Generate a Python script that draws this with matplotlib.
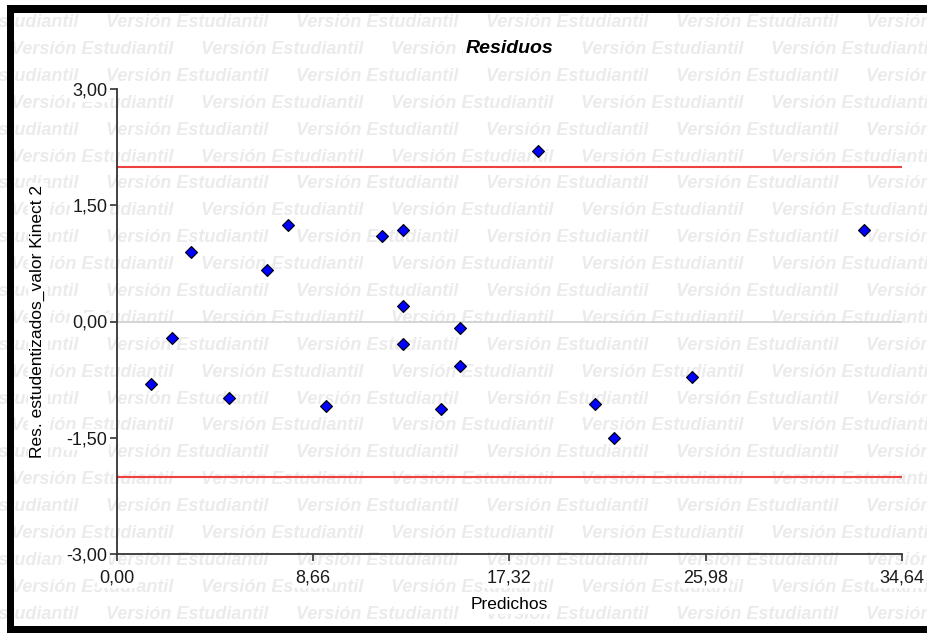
import matplotlib
matplotlib.use("Agg")
import matplotlib.pyplot as plt
from matplotlib.patches import Rectangle

plt.rcParams['font.family'] = ['Liberation Sans', 'DejaVu Sans']

# Studentized residuals vs. predicted values
predichos = [1.50, 2.41, 3.25, 4.96, 6.62, 7.53, 9.21, 11.71, 12.61, 12.61,
             12.61, 14.29, 15.13, 15.13, 18.58, 21.10, 21.94, 25.37, 32.99]
residuos = [-0.80, -0.21, 0.90, -0.99, 0.67, 1.245, -1.09, 1.10, 1.18, 0.20,
            -0.29, -1.13, -0.09, -0.58, 2.20, -1.065, -1.50, -0.72, 1.18]

x_ticks = [0.00, 8.66, 17.32, 25.98, 34.64]
x_labels = ["0,00", "8,66", "17,32", "25,98", "34,64"]
y_ticks = [-3.00, -1.50, 0.00, 1.50, 3.00]
y_labels = ["-3,00", "-1,50", "0,00", "1,50", "3,00"]
limites = [-2.0, 2.0]

W, H = 928, 633
fig = plt.figure(figsize=(W / 100, H / 100), dpi=100)
fig.patch.set_facecolor("white")

# Background watermark rows
marca = "Versión Estudiantil"
for k in range(24):
    yc = 22.7 + 26.88 * k
    x0 = -84 if k % 2 == 0 else 11
    for j in range(6):
        xs = x0 + 190 * j
        fig.text(xs / W, 1 - yc / H, marca, fontsize=13, fontweight="bold",
                 fontstyle="italic", color="#ebebeb", ha="left", va="center",
                 zorder=-5)

ax = fig.add_axes([117 / W, 1 - 554 / H, (901.7 - 117) / W, (554 - 89) / H])
ax.set_facecolor("none")

ax.set_xlim(0, 34.64)
ax.set_ylim(-3, 3)

ax.axhline(0, color="#cfcfcf", lw=1.2, zorder=1)
for v in limites:
    ax.axhline(v, color="#f04040", lw=1.5, zorder=2)

ax.plot(predichos, residuos, linestyle="none", marker="D", ms=6,
        markerfacecolor="#0000ff", markeredgecolor="black", mew=0.8, zorder=4)

for s in ["top", "right"]:
    ax.spines[s].set_visible(False)
for s in ["left", "bottom"]:
    ax.spines[s].set_color("#333333")
    ax.spines[s].set_linewidth(1.3)

ax.set_xticks(x_ticks, x_labels)
ax.set_yticks(y_ticks, y_labels)
ax.tick_params(axis="both", direction="out", length=5, width=1.2,
               color="#333333", labelsize=13, labelcolor="#1a1a1a")
ax.tick_params(axis="x", pad=6)
ax.tick_params(axis="y", pad=2)

caja = dict(facecolor="white", edgecolor="none", pad=1.5)
for lbl in ax.get_xticklabels() + ax.get_yticklabels():
    lbl.set_bbox(caja)

ax.set_title("Residuos", fontsize=14, fontweight="bold", fontstyle="italic",
             pad=26, bbox=caja)
ax.set_xlabel("Predichos", fontsize=12.5, labelpad=8, bbox=caja)
ax.set_ylabel("Res. estudentizados_valor Kinect 2", fontsize=12.5,
              labelpad=15, bbox=caja)

# Black frame on left, top and bottom edges
frame_kw = dict(transform=None, facecolor="black", edgecolor="none", zorder=10)
fig.patches.append(Rectangle((7, 0), 7, H - 5, **frame_kw))
fig.patches.append(Rectangle((7, H - 13), W - 7, 8, **frame_kw))
fig.patches.append(Rectangle((7, 0), W - 7, 7, **frame_kw))

fig.savefig("out.png", dpi=100)
